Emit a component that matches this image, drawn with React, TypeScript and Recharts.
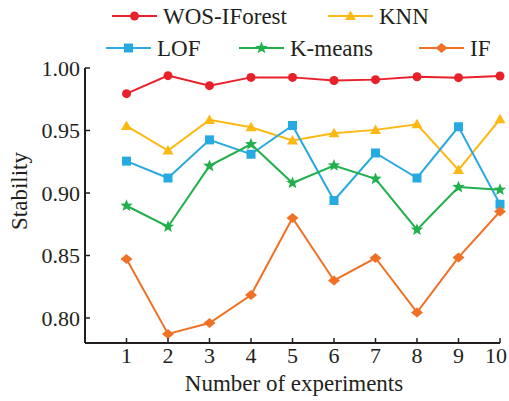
import React from "react";
import { LineChart, Line, XAxis, YAxis } from "recharts";

const experiments = [1, 2, 3, 4, 5, 6, 7, 8, 9, 10];
const wosIForest = [0.9795, 0.9939, 0.9859, 0.9925, 0.9925, 0.99, 0.9907, 0.993, 0.9923, 0.9936];
const knn = [0.9537, 0.934, 0.9585, 0.9526, 0.942, 0.9478, 0.9505, 0.955, 0.9185, 0.959];
const lof = [0.9255, 0.912, 0.9425, 0.931, 0.954, 0.894, 0.932, 0.912, 0.953, 0.891];
const kMeans = [0.8898, 0.873, 0.9217, 0.939, 0.908, 0.922, 0.9113, 0.8706, 0.9047, 0.9026];
const iForest = [0.8472, 0.7873, 0.796, 0.8184, 0.88, 0.83, 0.848, 0.8045, 0.8485, 0.8852];
const yTicks = [0.8, 0.85, 0.9, 0.95, 1.0];

const data = experiments.map((exp, i) => ({
  exp,
  wos: wosIForest[i],
  knn: knn[i],
  lof: lof[i],
  kmeans: kMeans[i],
  iforest: iForest[i],
}));

const FONT = "Liberation Serif, DejaVu Serif, serif";
const AXIS = "#231f20";

type Kind = "circle" | "triangle" | "square" | "star" | "diamond";

function Marker({ kind, cx, cy, color }: { kind: Kind; cx: number; cy: number; color: string }) {
  if (kind === "circle") return <circle cx={cx} cy={cy} r={4.5} fill={color} />;
  if (kind === "square") return <rect x={cx - 4.5} y={cy - 4.5} width={9} height={9} fill={color} />;
  if (kind === "triangle")
    return <polygon points={`${cx},${cy - 5.5} ${cx + 5.5},${cy + 4} ${cx - 5.5},${cy + 4}`} fill={color} />;
  if (kind === "diamond")
    return <polygon points={`${cx},${cy - 5} ${cx + 6},${cy} ${cx},${cy + 5} ${cx - 6},${cy}`} fill={color} />;
  // star
  const pts: string[] = [];
  for (let k = 0; k < 10; k++) {
    const r = k % 2 === 0 ? 6.5 : 2.8;
    const a = -Math.PI / 2 + (k * Math.PI) / 5;
    pts.push(`${cx + r * Math.cos(a)},${cy + r * Math.sin(a)}`);
  }
  return <polygon points={pts.join(" ")} fill={color} />;
}

const SERIES = [
  { key: "wos", name: "WOS-IForest", color: "#e8202a", kind: "circle" as Kind, lx: 112, ly: 16 },
  { key: "knn", name: "KNN", color: "#fdb913", kind: "triangle" as Kind, lx: 328, ly: 16 },
  { key: "lof", name: "LOF", color: "#27a9e1", kind: "square" as Kind, lx: 106, ly: 48 },
  { key: "kmeans", name: "K-means", color: "#21b04b", kind: "star" as Kind, lx: 239, ly: 48 },
  { key: "iforest", name: "IF", color: "#f07125", kind: "diamond" as Kind, lx: 419, ly: 48 },
];

function LegendBox() {
  return (
    <svg width={509} height={66} style={{ position: "absolute", left: 0, top: 0 }}>
      {SERIES.map((s) => (
        <g key={s.key}>
          <line x1={s.lx} x2={s.lx + 45} y1={s.ly} y2={s.ly} stroke={s.color} strokeWidth={2} />
          <Marker kind={s.kind} cx={s.lx + 22.5} cy={s.ly} color={s.color} />
          <text x={s.lx + 51} y={s.ly} dy="0.35em" style={{ fontFamily: FONT }} fontSize={23} fill={AXIS}>
            {s.name}
          </text>
        </g>
      ))}
    </svg>
  );
}

function XTick(props: any) {
  const { x, y, payload } = props;
  // keep the last label inside the picture, as the reference does
  const nearEdge = x + 11 > 507;
  return (
    <g>
      <line x1={x} x2={x} y1={y} y2={y - 5} stroke={AXIS} strokeWidth={1.5} />
      <text
        x={nearEdge ? 507 : x}
        y={y + 20}
        textAnchor={nearEdge ? "end" : "middle"}
        style={{ fontFamily: FONT }}
        fontSize={22}
        fill={AXIS}
      >
        {payload.value}
      </text>
    </g>
  );
}

function YTick(props: any) {
  const { x, y, payload } = props;
  return (
    <g>
      <line x1={x} x2={x + 5} y1={y} y2={y} stroke={AXIS} strokeWidth={1.5} />
      <text x={x - 5} y={y} dy="0.35em" textAnchor="end" style={{ fontFamily: FONT }} fontSize={22} fill={AXIS}>
        {Number(payload.value).toFixed(2)}
      </text>
    </g>
  );
}

export default function App() {
  return (
    <div style={{ position: "absolute", left: 0, top: 0, width: 509, height: 401, background: "#fff" }}>
      <LineChart width={509} height={401} data={data} margin={{ top: 68, right: 9, left: 0, bottom: 0 }}>
        <XAxis
          type="number"
          dataKey="exp"
          domain={[0, 10]}
          ticks={experiments}
          height={58}
          tickSize={0}
          tickMargin={0}
          tick={<XTick />}
          axisLine={{ stroke: AXIS, strokeWidth: 2 }}
          tickLine={false}
          label={() => (
            <text x={294} y={391} textAnchor="middle" style={{ fontFamily: FONT }} fontSize={23} fill={AXIS}>
              Number of experiments
            </text>
          )}
        />
        <YAxis
          type="number"
          domain={[0.78, 1.0]}
          ticks={yTicks}
          width={85}
          tickSize={0}
          tickMargin={0}
          tick={<YTick />}
          axisLine={{ stroke: AXIS, strokeWidth: 2 }}
          tickLine={false}
          allowDataOverflow
          label={() => (
            <text
              x={27}
              y={191}
              textAnchor="middle"
              transform="rotate(-90, 27, 191)"
              style={{ fontFamily: FONT }}
              fontSize={23}
              fill={AXIS}
            >
              Stability
            </text>
          )}
        />
        {SERIES.map((s) => (
          <Line
            key={s.key}
            type="linear"
            dataKey={s.key}
            name={s.name}
            stroke={s.color}
            strokeWidth={2}
            isAnimationActive={false}
            dot={(p: any) => <Marker key={`${s.key}-${p.index}`} kind={s.kind} cx={p.cx} cy={p.cy} color={s.color} />}
            activeDot={false}
          />
        ))}
      </LineChart>
      <LegendBox />
    </div>
  );
}
